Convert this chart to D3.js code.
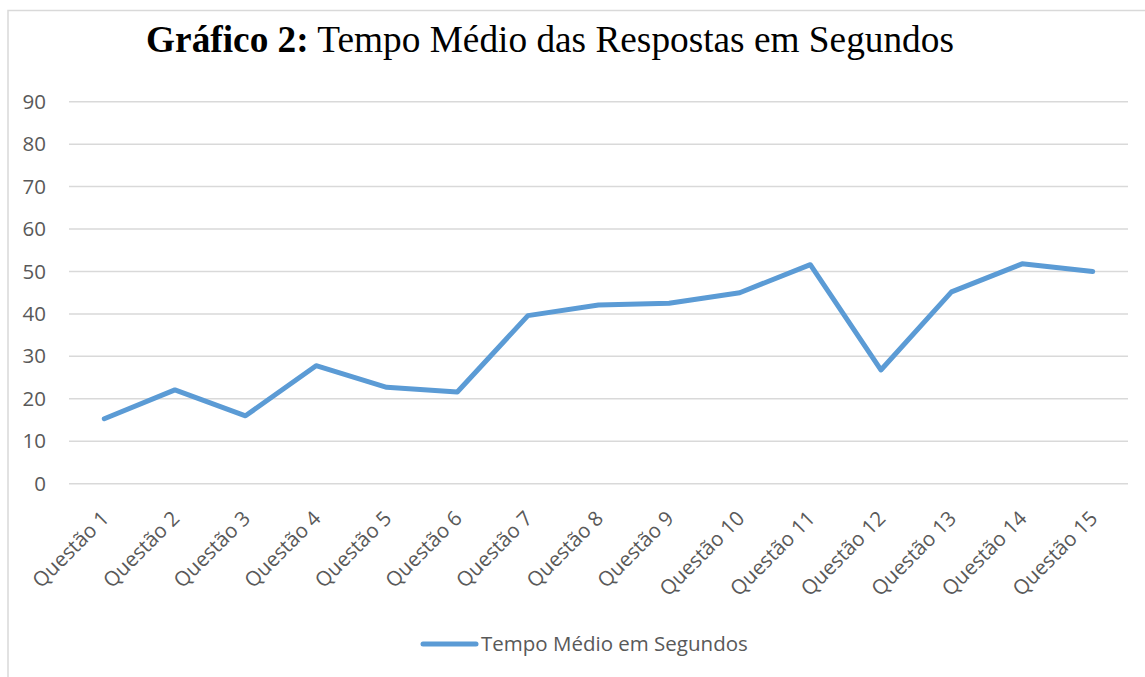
<!DOCTYPE html>
<html>
<head>
<meta charset="utf-8">
<script src="https://cdn.jsdelivr.net/npm/d3@7"></script>
<style>
  body { margin: 0; background: #fff; }
  svg { display: block; }
</style>
</head>
<body>
<div id="chart"></div>
<script>
// Data
const questions = ["Questão 1", "Questão 2", "Questão 3", "Questão 4", "Questão 5",
  "Questão 6", "Questão 7", "Questão 8", "Questão 9", "Questão 10",
  "Questão 11", "Questão 12", "Questão 13", "Questão 14", "Questão 15"];
const avgSeconds = [15.3, 22.1, 16.0, 27.8, 22.7, 21.6, 39.6, 42.1, 42.5, 45.0,
  51.6, 26.8, 45.2, 51.8, 50.0];
const yTicks = [0, 10, 20, 30, 40, 50, 60, 70, 80, 90];
const seriesName = "Tempo Médio em Segundos";

const W = 1145, H = 677;
const plot = { left: 69, right: 1128, top: 101.7, bottom: 483.7 };
const blue = "#5b9bd5";
const labelFont = "'Open Sans', sans-serif";
const labelSize = "20.5px";

const svg = d3.select("#chart").append("svg")
  .attr("width", W)
  .attr("height", H);

// chart area border
svg.append("rect")
  .attr("x", 8).attr("y", 10.5)
  .attr("width", W + 20).attr("height", H + 20)
  .attr("fill", "none")
  .attr("stroke", "#d9d9d9")
  .attr("stroke-width", 1.5);

// title
const title = svg.append("text")
  .attr("x", 550).attr("y", 52)
  .attr("text-anchor", "middle")
  .style("font-family", "'Liberation Serif', 'Times New Roman', serif")
  .style("font-size", "37.3px")
  .attr("fill", "#000");
title.append("tspan").style("font-weight", "bold").text("Gráfico 2:");
title.append("tspan").text(" Tempo Médio das Respostas em Segundos");

// scales
const x = d3.scaleBand()
  .domain(questions)
  .range([plot.left, plot.right]);

const y = d3.scaleLinear()
  .domain([0, 90])
  .range([plot.bottom, plot.top]);

// gridlines
svg.append("g")
  .selectAll("line")
  .data(yTicks)
  .enter()
  .append("line")
  .attr("x1", plot.left).attr("x2", plot.right)
  .attr("y1", d => y(d)).attr("y2", d => y(d))
  .attr("stroke", "#d9d9d9")
  .attr("stroke-width", 1.5);

// y axis labels
const yAxis = svg.append("g")
  .attr("transform", `translate(${plot.left},0)`)
  .call(d3.axisLeft(y).tickValues(yTicks).tickSize(0).tickPadding(23));
yAxis.select(".domain").remove();
yAxis.selectAll("text")
  .style("font-family", labelFont)
  .style("font-size", labelSize)
  .attr("fill", "#595959");

// x axis labels
const xAxis = svg.append("g")
  .attr("transform", `translate(0,${plot.bottom})`)
  .call(d3.axisBottom(x).tickSize(0));
xAxis.select(".domain").remove();
xAxis.selectAll("text")
  .style("font-family", labelFont)
  .style("font-size", labelSize)
  .attr("fill", "#595959")
  .attr("text-anchor", "end")
  .attr("dy", null)
  .attr("y", 0)
  .attr("transform", "translate(6,36) rotate(-45)");

// line
const line = d3.line()
  .x((d, i) => x(questions[i]) + x.bandwidth() / 2)
  .y(d => y(d));

svg.append("path")
  .datum(avgSeconds)
  .attr("d", line)
  .attr("fill", "none")
  .attr("stroke", blue)
  .attr("stroke-width", 5)
  .attr("stroke-linejoin", "round")
  .attr("stroke-linecap", "round");

// legend
const legend = svg.append("g").attr("transform", "translate(0,644)");
legend.append("line")
  .attr("x1", 423).attr("x2", 476)
  .attr("y1", 0).attr("y2", 0)
  .attr("stroke", blue)
  .attr("stroke-width", 5)
  .attr("stroke-linecap", "round");
legend.append("text")
  .attr("x", 481).attr("y", 0)
  .attr("dy", "0.35em")
  .style("font-family", labelFont)
  .style("font-size", labelSize)
  .attr("fill", "#595959")
  .text(seriesName);
</script>
</body>
</html>
